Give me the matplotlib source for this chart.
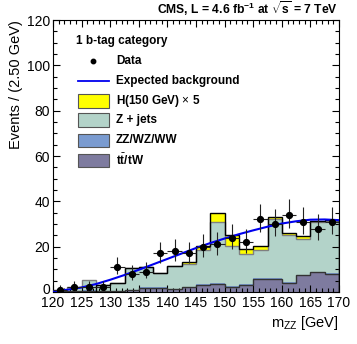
import numpy as np
import matplotlib
matplotlib.use("Agg")
import matplotlib.pyplot as plt
import matplotlib.transforms as mtransforms
from matplotlib.patches import Rectangle
from matplotlib.ticker import MultipleLocator

plt.rcParams['font.family'] = ['Liberation Sans', 'DejaVu Sans']
plt.rcParams['mathtext.fontset'] = 'custom'
plt.rcParams['mathtext.rm'] = 'Liberation Sans'
plt.rcParams['mathtext.it'] = 'Liberation Sans'
plt.rcParams['mathtext.bf'] = 'Liberation Sans:bold'

# ---- data ----
bin_edges = [120.0, 122.5, 125.0, 127.5, 130.0, 132.5, 135.0, 137.5, 140.0, 142.5,
             145.0, 147.5, 150.0, 152.5, 155.0, 157.5, 160.0, 162.5, 165.0, 167.5, 170.0]
ttbar = [0.3, 0.4, 0.6, 0.5, 0.4, 0.8, 1.9, 1.9, 1.2, 2.2,
         3.2, 3.6, 2.4, 3.2, 5.9, 5.9, 4.1, 7.3, 8.7, 8.0]
diboson = [0.1, 0.1, 0.2, 0.1, 0.2, 0.2, 0.2, 0.2, 0.3, 0.2,
           0.3, 0.3, 0.3, 0.3, 0.3, 0.3, 0.3, 0.3, 0.3, 0.3]
zjets = [0.6, 1.6, 4.6, 2.7, 3.2, 9.8, 8.8, 6.2, 9.8, 9.8,
         15.1, 27.0, 17.6, 13.3, 12.5, 26.1, 20.9, 16.0, 21.8, 22.9]
higgs = [0.0, 0.0, 0.0, 0.0, 0.0, 0.0, 0.0, 0.0, 0.0, 1.1,
         1.5, 4.1, 5.0, 2.2, 1.4, 1.0, 0.9, 0.9, 0.7, 0.6]

data_x = [121.25, 123.75, 126.25, 128.75, 131.25, 133.75, 136.25, 138.75, 141.25, 143.75,
          146.25, 148.75, 151.25, 153.75, 156.25, 158.75, 161.25, 163.75, 166.25, 168.75]
data_y = [1, 2, 2, 2, 11, 8, 9, 17, 18, 17,
          20, 21, 24, 22, 32, 30, 34, 31, 28, 31]
data_err_lo = [0.83, 1.29, 1.29, 1.29, 3.26, 2.77, 2.94, 4.08, 4.20, 4.08,
               4.42, 4.53, 4.86, 4.64, 5.63, 5.45, 5.81, 5.54, 5.26, 5.54]
data_err_hi = [2.30, 2.64, 2.64, 2.64, 4.40, 3.96, 4.11, 5.20, 5.32, 5.20,
               5.54, 5.64, 5.96, 5.75, 6.72, 6.53, 6.89, 6.63, 6.35, 6.63]

bkg_x = [120.0, 122.5, 125.0, 127.5, 130.0, 132.5, 135.0, 137.5, 140.0, 142.5, 145.0,
         147.5, 150.0, 152.5, 155.0, 157.5, 160.0, 162.5, 165.0, 167.5, 170.0]
bkg_y = [0.3, 1.0, 2.0, 3.5, 5.4, 7.5, 9.8, 12.2, 14.6, 17.0, 19.4,
         21.6, 23.6, 25.5, 27.2, 28.8, 30.2, 31.2, 31.9, 32.0, 31.7]

# ---- style ----
c_h = '#ffff00'
c_z = '#b3d3c9'
c_zz = '#7a9bd0'
c_tt = '#7e7b9f'

fig = plt.figure(figsize=(3.57, 3.44), dpi=100)
ax = fig.add_axes([53/357, 1-292/344, (339-53)/357, (292-20)/344])

edges = np.array(bin_edges)
b0 = np.zeros(len(ttbar))
b1 = b0 + np.array(ttbar)
b2 = b1 + np.array(diboson)
b3 = b2 + np.array(zjets)
b4 = b3 + np.array(higgs)

ax.stairs(b4, edges, baseline=b3, fill=True, color=c_h, zorder=1)
ax.stairs(b3, edges, baseline=b2, fill=True, color=c_z, zorder=1)
ax.stairs(b2, edges, baseline=b1, fill=True, color=c_zz, zorder=1)
ax.stairs(b1, edges, baseline=b0, fill=True, color=c_tt, zorder=1)
# outlines
ax.stairs(b3, edges, color='#7f7f7f', lw=1.0, zorder=2)
ax.stairs(b1, edges, color='#333333', lw=1.0, zorder=2)
ax.stairs(b4[3:], edges[3:], color='black', lw=1.0, zorder=3)

ax.plot(bkg_x, bkg_y, color='#0000ee', lw=1.5, zorder=4)

ax.errorbar(data_x, data_y, yerr=[data_err_lo, data_err_hi], xerr=1.25,
            fmt='o', color='black', ms=4.2, elinewidth=0.8, ecolor='#222222',
            capsize=0, zorder=5)

ax.set_xlim(120, 170)
ax.set_ylim(0, 120)
ax.xaxis.set_major_locator(MultipleLocator(5))
ax.xaxis.set_minor_locator(MultipleLocator(1))
ax.yaxis.set_major_locator(MultipleLocator(20))
ax.yaxis.set_minor_locator(MultipleLocator(5))
ax.tick_params(which='both', direction='in', top=True, right=True,
               labelsize=10, width=0.8)
ax.tick_params(which='major', length=5)
ax.tick_params(which='minor', length=2.6)
ax.tick_params(axis='x', pad=3)
ax.tick_params(axis='y', pad=2)
for s in ax.spines.values():
    s.set_linewidth(0.8)

# nudge the y "0" label up slightly so it does not sit on the x "120" label
fig.canvas.draw()
for lbl in ax.get_yticklabels():
    if lbl.get_text() in ('0', '\u22120'):
        lbl.set_transform(lbl.get_transform() +
                          mtransforms.ScaledTranslation(0, 3/100, fig.dpi_scale_trans))

fig.text(339/357, 1-323/344, r'm$_{\rm ZZ}$ [GeV]', ha='right', va='center', fontsize=10.5)
fig.text(16/357, 1-20/344, 'Events / (2.50 GeV)', rotation=90, ha='center', va='top',
         fontsize=10.5)
fig.text(338/357, 1-9/344, r'CMS, L = 4.6 fb$^{\mathbf{-1}}$ at $\sqrt{\mathbf{s}}$ = 7 TeV',
         ha='right', va='center', fontsize=8.7, fontweight='bold')

# legend
def fx(px):
    return (px - 53) / (339 - 53)
def fy(py):
    return (292 - py) / (292 - 20)

ax.text(fx(76), fy(41), '1 b-tag category', transform=ax.transAxes, fontsize=8.5,
        fontweight='bold', va='center', ha='left')
lab_x = fx(116)
items = [
    ('Data', 'marker', None),
    ('Expected background', 'line', None),
    (r'H(150 GeV) $\times$ 5', 'box', c_h),
    ('Z + jets', 'box', c_z),
    ('ZZ/WZ/WW', 'box', c_zz),
    (r't$\bar{\mathbf{t}}$/tW', 'box', c_tt),
]
ys = [61, 81, 101, 120, 140, 160]
for (lab, kind, col), py in zip(items, ys):
    yy = fy(py)
    if kind == 'marker':
        ax.plot([fx(93)], [yy], 'o', color='black', ms=3.2, transform=ax.transAxes,
                clip_on=False, zorder=6)
    elif kind == 'line':
        ax.plot([fx(78), fx(109)], [yy, yy], color='#0000ee', lw=1.3,
                transform=ax.transAxes, zorder=6)
    else:
        h = 13 / (292 - 20)
        ax.add_patch(Rectangle((fx(78), yy - h/2), fx(109) - fx(78), h,
                               transform=ax.transAxes, facecolor=col,
                               edgecolor='#555555', lw=0.8, zorder=6))
    ax.text(lab_x, yy, lab, transform=ax.transAxes, fontsize=8.5, fontweight='bold',
            va='center', ha='left', zorder=6)

fig.savefig('out.png', dpi=100)
